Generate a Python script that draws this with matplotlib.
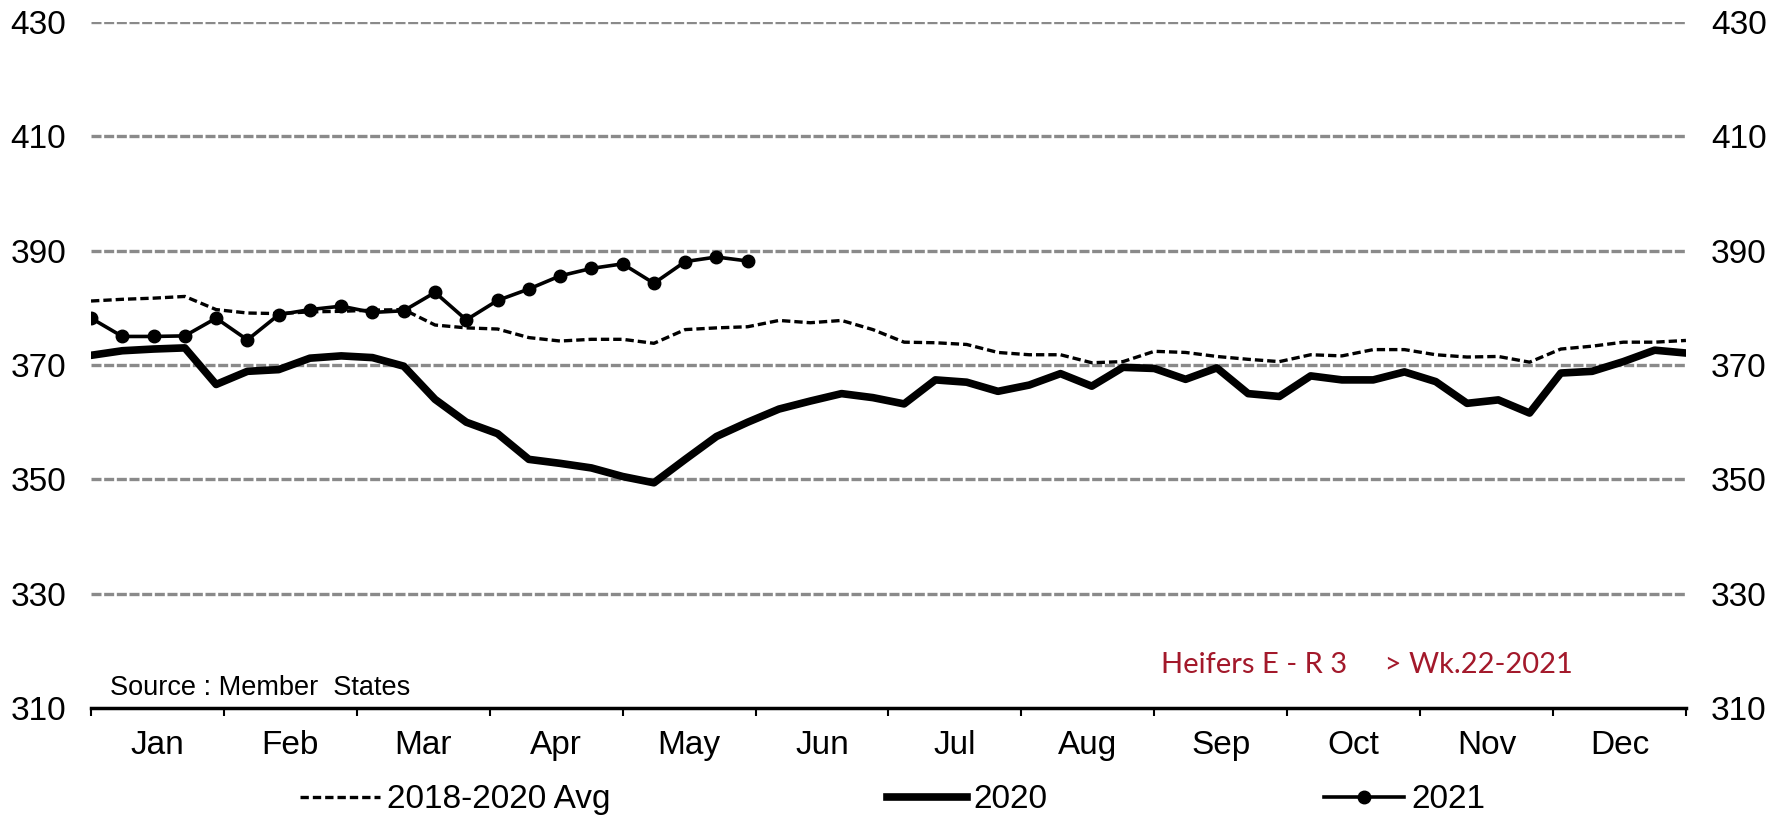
import numpy as np
import matplotlib
matplotlib.use("Agg")
import matplotlib.pyplot as plt
from matplotlib.lines import Line2D

plt.rcParams['font.family'] = ['Liberation Sans', 'DejaVu Sans']

# weekly prices, weeks 1..52
weeks = np.arange(1, 53)

avg_1820 = [381.2, 381.5, 381.7, 382.0, 379.7, 379.1, 379.0, 379.3, 379.4, 379.6,
            379.7, 377.0, 376.5, 376.3, 374.8, 374.2, 374.5, 374.5, 373.8, 376.2,
            376.5, 376.7, 377.8, 377.4, 377.8, 376.2, 374.0, 373.9, 373.6, 372.2,
            371.8, 371.8, 370.4, 370.6, 372.4, 372.2, 371.5, 371.0, 370.6, 371.8,
            371.6, 372.7, 372.7, 371.8, 371.4, 371.5, 370.5, 372.8, 373.3, 374.0,
            374.0, 374.3]

y2020 = [371.7, 372.5, 372.8, 373.0, 366.6, 368.9, 369.2, 371.2, 371.6, 371.3,
         369.8, 364.0, 360.0, 358.0, 353.5, 352.8, 352.0, 350.5, 349.4, 353.5,
         357.5, 360.0, 362.3, 363.7, 365.0, 364.3, 363.2, 367.4, 367.0, 365.4,
         366.5, 368.5, 366.3, 369.6, 369.4, 367.5, 369.5, 365.0, 364.5, 368.1,
         367.4, 367.4, 368.8, 367.1, 363.3, 363.9, 361.6, 368.6, 368.9, 370.6,
         372.6, 372.1]

y2021 = [378.2, 375.0, 375.0, 375.1, 378.2, 374.4, 378.8, 379.7, 380.3, 379.2,
         379.5, 382.7, 377.9, 381.3, 383.3, 385.6, 386.9, 387.7, 384.3, 388.1,
         388.9, 388.2]

months = ['Jan', 'Feb', 'Mar', 'Apr', 'May', 'Jun',
          'Jul', 'Aug', 'Sep', 'Oct', 'Nov', 'Dec']
yticks = [310, 330, 350, 370, 390, 410, 430]

fig = plt.figure(figsize=(17.85, 8.17), dpi=100)
ax = fig.add_axes([0.051, 0.1334, 0.8935, 0.8396])

# dashed grey gridlines
for yv in yticks[1:]:
    ax.axhline(yv, color='#8a8a8a', lw=2.4, dashes=(3, 0.8), zorder=1)

ax.plot(weeks, avg_1820, color='black', lw=2.4, dashes=(2.5, 1.2), zorder=3)
ax.plot(weeks, y2020, color='black', lw=5.5, solid_capstyle='round',
        solid_joinstyle='round', zorder=3)
ax.plot(weeks[:len(y2021)], y2021, color='black', lw=2.6, marker='o',
        markersize=9, zorder=4)

ax.set_xlim(1, 52)
ax.set_ylim(310, 430)

# month boundaries as ticks, names centred between them
bounds = 1 + np.arange(13) * 51 / 12
centres = (bounds[:-1] + bounds[1:]) / 2
ax.set_xticks(bounds)
ax.set_xticklabels([])
ax.set_xticks(centres, minor=True)
ax.set_xticklabels(months, minor=True, fontsize=24)
ax.tick_params(axis='x', which='major', direction='out', length=6, width=1.5)
ax.tick_params(axis='x', which='minor', length=0, pad=16)

ax.set_yticks(yticks)
ax.set_yticklabels([str(v) for v in yticks], fontsize=24)
ax.tick_params(axis='y', length=0, pad=18, labelright=True, right=False)

for s in ['top', 'left', 'right']:
    ax.spines[s].set_visible(False)
ax.spines['bottom'].set_linewidth(2.5)
ax.spines['bottom'].set_color('black')

ax.text(0.012, 0.019, 'Source : Member  States', transform=ax.transAxes,
        fontsize=19.5, ha='left', va='baseline')
ax.text(0.671, 0.051, 'Heifers E - R 3     > Wk.22-2021', transform=ax.transAxes,
        fontsize=21, color='#a3192b', family=['Lato', 'DejaVu Sans'],
        ha='left', va='baseline')

handles = [
    Line2D([], [], color='black', lw=2.4, dashes=(2.5, 1.2)),
    Line2D([], [], color='black', lw=5.5),
    Line2D([], [], color='black', lw=2.6, marker='o', markersize=9),
]
fig.legend(handles, ['2018-2020 Avg', '2020', '2021'], loc='center',
           bbox_to_anchor=(0.5, 0.021), ncol=3, frameon=False, fontsize=24,
           handlelength=2.4, handletextpad=0.2, columnspacing=8.3,
           borderpad=0)

fig.savefig('out.png', dpi=100)
